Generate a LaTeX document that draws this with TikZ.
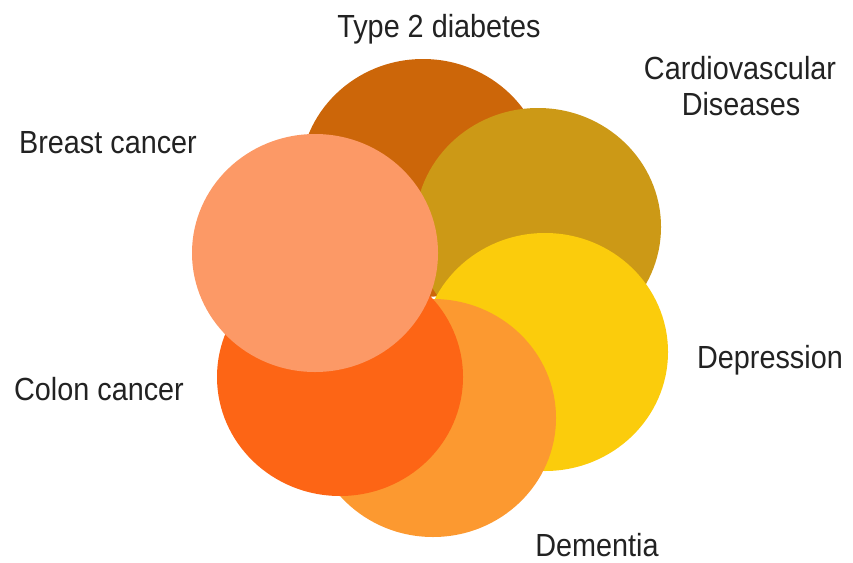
\documentclass[tikz,border=0pt]{standalone}
\usepackage{fontspec}
\setmainfont{Liberation Sans}[FakeStretch=0.9]
\usetikzlibrary{shapes.geometric}
\definecolor{ctype}{HTML}{CC6609}
\definecolor{ccardio}{HTML}{CC9916}
\definecolor{cdep}{HTML}{FBCC0C}
\definecolor{cdem}{HTML}{FC9930}
\definecolor{ccolon}{HTML}{FD6515}
\definecolor{cbreast}{HTML}{FC9966}
\definecolor{ctext}{HTML}{222222}
\begin{document}
\begin{tikzpicture}[x=1pt,y=-1pt,
  blob/.style={ellipse,draw=none,inner sep=0pt,minimum width=246pt,minimum height=238pt},
  lbl/.style={anchor=base,inner sep=0pt,text depth=0pt,text=ctext,font=\fontsize{32}{36}\selectfont}]
\useasboundingbox (0,0) rectangle (853,562);
\node[blob,fill=ctype]   (t2)  at (423,178) {};
\node[blob,fill=ccardio] (cv)  at (538,227) {};
\node[blob,fill=cdep]    (dep) at (545,352) {};
\node[blob,fill=cdem]    (dem) at (433,418) {};
\node[blob,fill=ccolon]  (col) at (340,377) {};
\node[blob,fill=cbreast] (br)  at (315,253) {};
\node[lbl] (lt2)  at (439,37)  {Type 2 diabetes};
\node[lbl] (lcv1) at (740,79)  {Cardiovascular};
\node[lbl] (lcv2) at (741,115) {Diseases};
\node[lbl] (lbr)  at (108,153) {Breast cancer};
\node[lbl] (lcol) at (99,400)  {Colon cancer};
\node[lbl] (ldep) at (770,368) {Depression};
\node[lbl] (ldem) at (597,556) {Dementia};
\end{tikzpicture}
\end{document}
